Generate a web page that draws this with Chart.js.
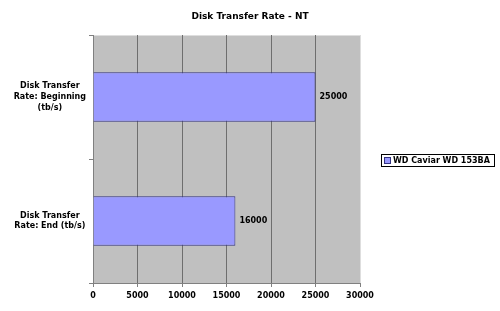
<!DOCTYPE html>
<html>
<head>
<meta charset="utf-8">
<script src="https://cdn.jsdelivr.net/npm/chart.js@4"></script>
<style>
  html, body { margin: 0; padding: 0; background: #fff; }
  canvas { display: block; }
</style>
</head>
<body>
<canvas id="chart" width="500" height="311"></canvas>
<script>
'use strict';

const categories = [
    ['Disk Transfer', 'Rate: Beginning', '(tb/s)'],
    ['Disk Transfer', 'Rate: End (tb/s)']
];
const seriesName = 'WD Caviar WD 153BA';
const seriesValues = [25000, 16000];
const xTicks = [0, 5000, 10000, 15000, 20000, 25000, 30000];
const chartTitle = 'Disk Transfer Rate - NT';

const FONT = '"DejaVu Sans", Verdana, sans-serif';
const BAR_FILL = '#9999ff';
const BAR_EDGE = '#333380';

// gray plot background with light top / right edges
const plotBackground = {
    id: 'plotBackground',
    beforeDraw(chart) {
        const a = chart.chartArea;
        const ctx = chart.ctx;
        ctx.save();
        ctx.fillStyle = '#c0c0c0';
        ctx.fillRect(a.left, a.top, a.right - a.left, a.bottom - a.top);
        ctx.strokeStyle = '#dedede';
        ctx.lineWidth = 1;
        ctx.beginPath();
        ctx.moveTo(a.left, a.top + 0.5);
        ctx.lineTo(a.right + 0.5, a.top + 0.5);
        ctx.lineTo(a.right + 0.5, a.bottom);
        ctx.stroke();
        ctx.restore();
    }
};

// title centred on the whole canvas, not just the plot
const pageTitle = {
    id: 'pageTitle',
    afterDraw(chart) {
        const ctx = chart.ctx;
        ctx.save();
        ctx.font = 'bold 9px ' + FONT;
        ctx.fillStyle = '#000';
        ctx.textAlign = 'center';
        ctx.textBaseline = 'middle';
        ctx.fillText(chartTitle, chart.width / 2, 17);
        ctx.restore();
    }
};

const valueLabels = {
    id: 'valueLabels',
    afterDatasetsDraw(chart) {
        const ctx = chart.ctx;
        const meta = chart.getDatasetMeta(0);
        ctx.save();
        ctx.font = 'bold 8px ' + FONT;
        ctx.fillStyle = '#000';
        ctx.textAlign = 'left';
        ctx.textBaseline = 'middle';
        meta.data.forEach((bar, i) => {
            ctx.fillText(String(seriesValues[i]), bar.x + 4, bar.y);
        });
        ctx.restore();
    }
};

const boxLegend = {
    id: 'boxLegend',
    afterDraw(chart) {
        const ctx = chart.ctx;
        const x = 381, y = 154, w = 114, h = 13;
        ctx.save();
        ctx.fillStyle = '#fff';
        ctx.fillRect(x, y, w, h);
        ctx.strokeStyle = '#000';
        ctx.lineWidth = 1;
        ctx.strokeRect(x + 0.5, y + 0.5, w - 1, h - 1);
        ctx.fillStyle = BAR_FILL;
        ctx.fillRect(x + 3, y + 3, 6, 6);
        ctx.strokeStyle = BAR_EDGE;
        ctx.strokeRect(x + 3.5, y + 3.5, 6, 6);
        ctx.font = 'bold 8px ' + FONT;
        ctx.fillStyle = '#000';
        ctx.textBaseline = 'middle';
        ctx.fillText(seriesName, x + 12, y + h / 2 + 0.5);
        ctx.restore();
    }
};

new Chart(document.getElementById('chart').getContext('2d'), {
    type: 'bar',
    data: {
        labels: categories,
        datasets: [{
            label: seriesName,
            data: seriesValues,
            backgroundColor: BAR_FILL,
            borderColor: BAR_EDGE,
            borderWidth: 1,
            categoryPercentage: 0.4,
            barPercentage: 1
        }]
    },
    options: {
        indexAxis: 'y',
        responsive: false,
        animation: false,
        layout: { padding: { top: 35, right: 140, bottom: 0, left: 0 } },
        plugins: {
            legend: { display: false },
            tooltip: { enabled: false },
            title: { display: false }
        },
        scales: {
            x: {
                min: 0,
                max: 30000,
                afterBuildTicks: scale => {
                    scale.ticks = xTicks.map(v => ({ value: v }));
                },
                afterFit: scale => { scale.height = 28; },
                grid: {
                    color: ctx => ctx.index === xTicks.length - 1 ? '#dedede' : '#6e6e6e',
                    tickColor: '#808080',
                    tickLength: 4,
                    lineWidth: 1
                },
                border: { color: '#808080', width: 1 },
                ticks: {
                    color: '#000',
                    padding: 4,
                    font: { family: FONT, size: 8, weight: 'bold' },
                    callback: v => String(v)
                }
            },
            y: {
                afterFit: scale => { scale.width = 93; },
                grid: {
                    drawOnChartArea: false,
                    drawTicks: true,
                    tickLength: 4,
                    tickColor: '#808080'
                },
                border: { color: '#808080', width: 1 },
                ticks: {
                    color: '#000',
                    padding: 3,
                    crossAlign: 'center',
                    font: { family: FONT, size: 8, weight: 'bold', lineHeight: 1.35 }
                }
            }
        }
    },
    plugins: [plotBackground, pageTitle, valueLabels, boxLegend]
});
</script>
</body>
</html>
